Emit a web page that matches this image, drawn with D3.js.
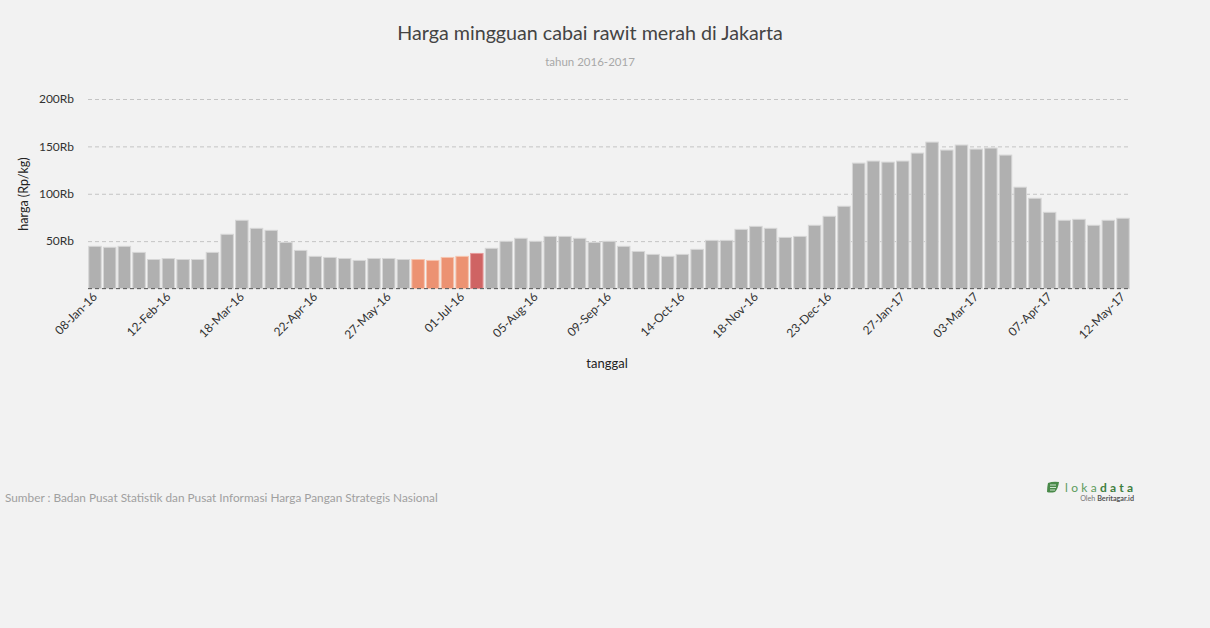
<!DOCTYPE html>
<html>
<head>
<meta charset="utf-8">
<script src="https://cdn.jsdelivr.net/npm/d3@7"></script>
<style>
  html, body { margin: 0; padding: 0; background: #f2f2f2; }
  svg { display: block; font-family: Lato, "Open Sans", sans-serif; }
</style>
</head>
<body>
<svg id="chart" width="1210" height="628"></svg>
<script>
// ---- data ----
const weeks = [
  "08-Jan-16","15-Jan-16","22-Jan-16","29-Jan-16","05-Feb-16","12-Feb-16","19-Feb-16","26-Feb-16",
  "04-Mar-16","11-Mar-16","18-Mar-16","25-Mar-16","01-Apr-16","08-Apr-16","15-Apr-16","22-Apr-16","29-Apr-16",
  "06-May-16","13-May-16","20-May-16","27-May-16","03-Jun-16","10-Jun-16","17-Jun-16","24-Jun-16",
  "01-Jul-16","08-Jul-16","15-Jul-16","22-Jul-16","29-Jul-16","05-Aug-16","12-Aug-16","19-Aug-16","26-Aug-16",
  "02-Sep-16","09-Sep-16","16-Sep-16","23-Sep-16","30-Sep-16","07-Oct-16","14-Oct-16","21-Oct-16","28-Oct-16",
  "04-Nov-16","11-Nov-16","18-Nov-16","25-Nov-16","02-Dec-16","09-Dec-16","16-Dec-16","23-Dec-16","30-Dec-16",
  "06-Jan-17","13-Jan-17","20-Jan-17","27-Jan-17","03-Feb-17","10-Feb-17","17-Feb-17","24-Feb-17",
  "03-Mar-17","10-Mar-17","17-Mar-17","24-Mar-17","31-Mar-17","07-Apr-17","14-Apr-17","21-Apr-17","28-Apr-17",
  "05-May-17","12-May-17"
];
// price in thousand Rupiah per kg
const prices = [
  44.5, 43.5, 44.5, 38.1, 30.6, 31.6, 30.6, 30.6, 38.1, 57.2, 72.0, 63.5, 61.4, 48.7, 40.2, 33.9, 32.8,
  31.7, 29.6, 31.7, 31.7, 30.6, 30.6, 29.6, 32.8, 33.9, 37.0, 42.4, 49.8, 53.0, 49.8, 55.0, 55.0, 53.0,
  48.7, 49.8, 44.5, 39.1, 36.0, 33.9, 36.0, 41.3, 50.8, 50.8, 62.4, 65.6, 63.5, 53.9, 55.0, 66.7, 76.2, 86.8,
  132.3, 134.5, 133.4, 134.5, 142.9, 154.5, 146.1, 151.4, 147.1, 148.2, 140.8, 106.9, 95.2, 80.4,
  72.0, 73.0, 66.7, 72.0, 74.1
];
const xTickLabels = ["08-Jan-16","12-Feb-16","18-Mar-16","22-Apr-16","27-May-16","01-Jul-16","05-Aug-16",
  "09-Sep-16","14-Oct-16","18-Nov-16","23-Dec-16","27-Jan-17","03-Mar-17","07-Apr-17","12-May-17"];
const yTicks = [0, 50, 100, 150, 200];
const orangeWeeks = ["10-Jun-16","17-Jun-16","24-Jun-16","01-Jul-16"];
const redWeeks = ["08-Jul-16"];

const title = "Harga mingguan cabai rawit merah di Jakarta";
const subtitle = "tahun 2016-2017";
const yLabel = "harga (Rp/kg)";
const xLabel = "tanggal";
const source = "Sumber : Badan Pusat Statistik dan Pusat Informasi Harga Pangan Strategis Nasional";

// ---- chart ----
const svg = d3.select("#chart");
const pLeft = 88, pRight = 1130, pTop = 99, pBottom = 288.5;

const x = d3.scaleBand().domain(weeks).range([pLeft, pRight]).paddingInner(0.15).paddingOuter(0.05);
const y = d3.scaleLinear().domain([0, 200]).range([pBottom, pTop]);

// title
svg.append("text").attr("x", 590).attr("y", 40).attr("text-anchor", "middle")
  .attr("font-size", 19.7).attr("fill", "#444").text(title);
svg.append("text").attr("x", 590).attr("y", 66).attr("text-anchor", "middle")
  .attr("font-size", 11.5).attr("fill", "#a8a8a8").text(subtitle);

// grid + y axis
const yAxis = d3.axisLeft(y).tickValues(yTicks).tickSize(-(pRight - pLeft))
  .tickPadding(14).tickFormat(d => d === 0 ? "" : d + "Rb");
const gy = svg.append("g").attr("transform", `translate(${pLeft},0)`).call(yAxis);
gy.select(".domain").remove();
gy.selectAll(".tick line").attr("stroke", "#c4c4c4").attr("stroke-dasharray", "4,3");
gy.selectAll(".tick text").attr("font-size", 12).attr("fill", "#333").attr("font-family", "Lato, sans-serif");

// bars
svg.append("g").selectAll("rect").data(weeks).join("rect")
  .attr("x", d => x(d))
  .attr("width", x.bandwidth())
  .attr("y", (d, i) => y(prices[i]))
  .attr("height", (d, i) => y(0) - y(prices[i]))
  .attr("fill", d => redWeeks.includes(d) ? "#cf6363" : orangeWeeks.includes(d) ? "#ec9272" : "#b0b0b0")
  .attr("stroke", d => redWeeks.includes(d) ? "#e69a9a" : orangeWeeks.includes(d) ? "#f6c4ae" : "#d6d6d6")
  .attr("stroke-width", 1);

// baseline
svg.append("line").attr("x1", pLeft).attr("x2", pRight).attr("y1", y(0)).attr("y2", y(0))
  .attr("stroke", "#666").attr("stroke-width", 1.2).attr("stroke-dasharray", "4,3");

// x axis
const xAxis = d3.axisBottom(x).tickValues(xTickLabels).tickSize(0).tickPadding(0);
const gx = svg.append("g").attr("transform", `translate(0,${pBottom})`).call(xAxis);
gx.select(".domain").remove();
gx.selectAll(".tick text")
  .attr("font-size", 12).attr("fill", "#333").attr("font-family", "Lato, sans-serif")
  .attr("text-anchor", "end")
  .attr("dy", "0")
  .attr("transform", "translate(3,9) rotate(-45)");

// axis titles
svg.append("text").attr("transform", "translate(28,194) rotate(-90)").attr("text-anchor", "middle")
  .attr("font-size", 12.5).attr("fill", "#222").text(yLabel);
svg.append("text").attr("x", 607).attr("y", 368).attr("text-anchor", "middle")
  .attr("font-size", 13).attr("fill", "#222").text(xLabel);

// source
svg.append("text").attr("x", 5).attr("y", 502).attr("font-size", 11.8).attr("fill", "#a0a0a0").text(source);

// logo
const logo = svg.append("g").attr("transform", "translate(1047,481)");
logo.append("path").attr("d", "M1,2 Q6,0 12,1 Q11,8 8,11 Q3,12 0,11 Q0,6 1,2 Z").attr("fill", "#4a8a4a");
logo.append("path").attr("d", "M3,4 L9,4 M3,6.5 L9,6.5 M3,9 L8,9").attr("stroke", "#dfeedf").attr("stroke-width", 0.9);
logo.append("text").attr("x", 18).attr("y", 11).attr("font-size", 12).attr("letter-spacing", 3.3)
  .attr("fill", "#5c9b5c").text("loka")
  .append("tspan").attr("font-weight", "bold").attr("fill", "#3f7f3f").text("data");
logo.append("text").attr("x", 87).attr("y", 20).attr("text-anchor", "end").attr("font-size", 7.2)
  .attr("fill", "#777").text("Oleh ")
  .append("tspan").attr("font-weight", "bold").attr("fill", "#555").text("Beritagar.id");
</script>
</body>
</html>
